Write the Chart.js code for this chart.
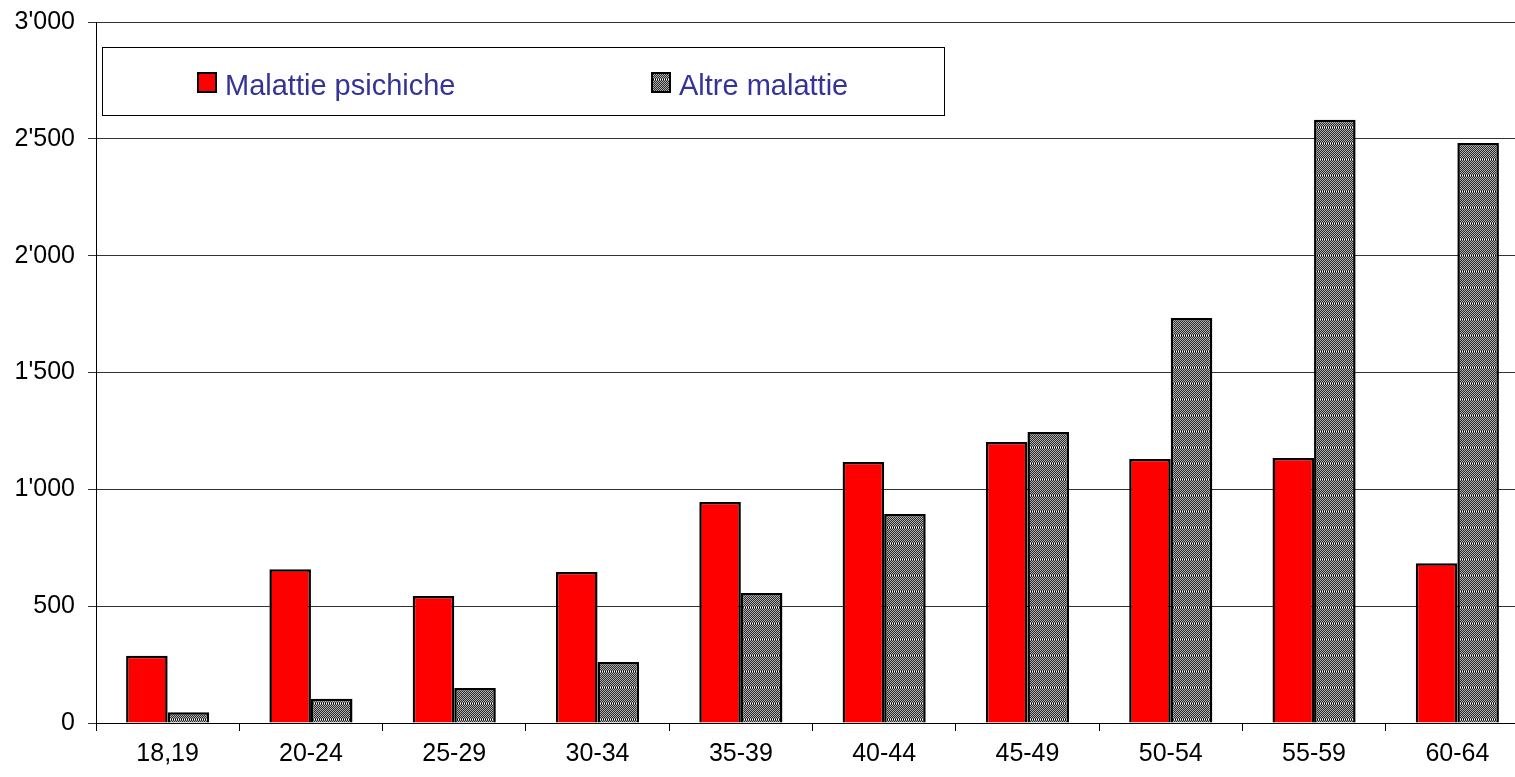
<!DOCTYPE html>
<html>
<head>
<meta charset="utf-8">
<script src="https://cdn.jsdelivr.net/npm/chart.js@4.4.0/dist/chart.umd.min.js"></script>
<style>
  html, body { margin: 0; padding: 0; background: #fff; overflow: hidden; }
  #wrap { width: 1530px; height: 777px; position: relative; }
</style>
</head>
<body>
<div id="wrap"><canvas id="meinChart"></canvas></div>
<script>
// ---------------- data
const categories = ['18,19', '20-24', '25-29', '30-34', '35-39', '40-44', '45-49', '50-54', '55-59', '60-64'];
const psichiche = [288, 658, 543, 646, 946, 1117, 1203, 1130, 1134, 684];
const altre = [46, 104, 150, 261, 556, 894, 1245, 1733, 2582, 2482];
const seriesNames = ['Malattie psichiche', 'Altre malattie'];
const yTicks = [0, 500, 1000, 1500, 2000, 2500, 3000];

// grey checker fill with dotted rows every 16px
function makePattern() {
  const c = document.createElement('canvas');
  c.width = 8; c.height = 16;
  const g = c.getContext('2d');
  for (let y = 0; y < 16; y++) {
    for (let x = 0; x < 8; x++) {
      if (y === 15) g.fillStyle = (x % 2) ? '#000' : '#fff';
      else g.fillStyle = ((x + y) % 2) ? '#2a2a2a' : '#b0b0b0';
      g.fillRect(x, y, 1, 1);
    }
  }
  return g.createPattern(c, 'repeat');
}
const greyFill = makePattern();

function fmt(v) {
  if (v < 1000) return String(v);
  const s = String(v);
  return s.slice(0, s.length - 3) + "'" + s.slice(-3);
}

// legend box like the original
const boxLegend = {
  id: 'boxLegend',
  afterDraw(chart) {
    const ctx = chart.ctx;
    ctx.save();
    ctx.fillStyle = '#fff';
    ctx.fillRect(102.5, 47.5, 842, 68);
    ctx.strokeStyle = '#000';
    ctx.lineWidth = 1;
    ctx.strokeRect(102.5, 47.5, 842, 68);
    const xs = [197, 651];
    ctx.font = '29px "Liberation Sans", Arial, sans-serif';
    ctx.textBaseline = 'alphabetic';
    chart.data.datasets.forEach(function (ds, i) {
      ctx.fillStyle = ds.backgroundColor;
      ctx.fillRect(xs[i], 72, 20, 21);
      ctx.lineWidth = 2;
      ctx.strokeStyle = '#000';
      ctx.strokeRect(xs[i] + 1, 73, 18, 19);
      ctx.fillStyle = '#333399';
      ctx.fillText(ds.label, xs[i] + 28, 95);
    });
    ctx.restore();
  }
};

const data = {
  labels: categories,
  datasets: [{
    label: seriesNames[0],
    data: psichiche,
    backgroundColor: '#ff0000',
    borderColor: '#000',
    borderWidth: 2.5
  }, {
    label: seriesNames[1],
    data: altre,
    backgroundColor: greyFill,
    borderColor: '#000',
    borderWidth: 2.5
  }]
};

const config = {
  type: 'bar',
  data: data,
  options: {
    responsive: true,
    maintainAspectRatio: false,
    animation: false,
    layout: { padding: { top: 22, right: 1, left: 0, bottom: 0 } },
    datasets: { bar: { categoryPercentage: 0.58, barPercentage: 1 } },
    plugins: { legend: { display: false }, tooltip: { enabled: false } },
    scales: {
      x: {
        grid: { offset: true, drawOnChartArea: false, color: '#000', tickLength: 8 },
        border: { color: '#000', width: 1 },
        ticks: { color: '#000', font: { family: '"Liberation Sans", Arial', size: 25 }, padding: 8, maxRotation: 0 },
        afterFit(scale) { scale.height = 54; scale.paddingLeft = 0; scale.paddingRight = 0; }
      },
      y: {
        min: 0,
        max: 3000,
        afterBuildTicks(scale) { scale.ticks = yTicks.map(v => ({ value: v })); },
        grid: { color: '#333', tickLength: 8 },
        border: { color: '#000', width: 1 },
        ticks: {
          color: '#000',
          font: { family: '"Liberation Sans", Arial', size: 25 },
          padding: 13,
          callback: function (v) { return fmt(v); }
        },
        afterFit(scale) { scale.width = 96; scale.paddingTop = 0; scale.paddingBottom = 0; }
      }
    }
  },
  plugins: [boxLegend]
};

const myChart = new Chart(document.getElementById('meinChart'), config);
</script>
</body>
</html>
